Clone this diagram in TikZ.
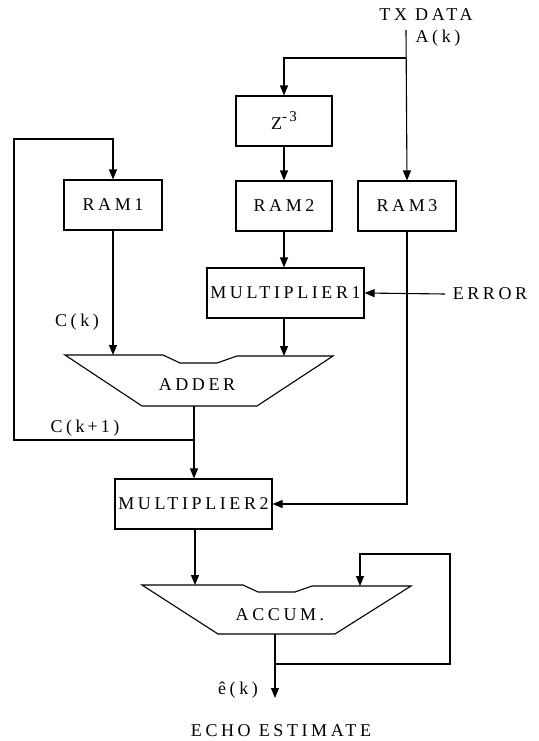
\documentclass[tikz,border=0pt]{standalone}
\usepackage{fontspec}
\setmainfont{Liberation Serif}[LetterSpace=20]
\usetikzlibrary{arrows.meta}
\begin{document}
\begin{tikzpicture}[x=1pt,y=-1pt,line width=1.1pt,
  every node/.style={font=\fontsize{18}{20}\selectfont},
  blk/.style={draw,minimum height=50pt,inner sep=0pt},
  lbl/.style={inner sep=0pt},
  arr/.style={-{Triangle[length=10pt,width=8pt]}}]
\useasboundingbox (0,0) rectangle (538,741);
% blocks
\node[blk,minimum width=96pt] (z) at (284,121) {Z\raisebox{8pt}{\fontsize{15}{15}\selectfont -\,3}};
\node[blk,minimum width=98pt] (ram1) at (113,205) {RAM1};
\node[blk,minimum width=96pt] (ram2) at (284,206) {RAM2};
\node[blk,minimum width=98pt] (ram3) at (407,206) {RAM3};
\node[blk,minimum width=157pt] (mult1) at (285.5,293) {MULTIPLIER1};
\node[blk,minimum width=157pt] (mult2) at (193.5,504) {MULTIPLIER2};
% adder and accumulator shapes
\draw (65,355) -- (163,355) -- (180,363) -- (217,363) -- (237,356) -- (333,356) -- (257,406) -- (142,406) -- cycle;
\node[lbl] (adder) at (197,385) {ADDER};
\draw (142,585) -- (243,585) -- (258,592) -- (295,592) -- (312,586) -- (411,586) -- (335,634) -- (218,634) -- cycle;
\node[lbl] (accum) at (280,615) {ACCUM.};
% coordinates
\coordinate (txtop) at (406,30);
\coordinate (txsplit) at (406,58);
\coordinate (addin1) at (113,355);
\coordinate (addin2) at (284,356);
\coordinate (addout) at (194,406);
\coordinate (cjunc) at (194,440);
\coordinate (accin1) at (195,585);
\coordinate (accin2) at (360,586);
\coordinate (accout) at (275,634);
\coordinate (ajunc) at (275,664);
\coordinate (eout) at (275,698);
\coordinate (errstart) at (445,294);
% labels
\node[lbl] (tx) at (426,15) {TX DATA};
\node[lbl] (ak) at (438,38) {A(k)};
\node[lbl] (err) at (490,294) {ERROR};
\node[lbl] (ck) at (77,322) {C(k)};
\node[lbl] (ck1) at (85,428) {C(k\,+\,1)};
\node[lbl] (ek) at (238,690) {ê(k)};
\node[lbl] (echo) at (281,731) {ECHO ESTIMATE};
% connectors
\draw[arr] (txtop) -- (ram3.north);
\draw[arr] (txsplit) -| (z.north);
\draw[arr] (z.south) -- (ram2.north);
\draw[arr] (ram2.south) -- (ram2.south |- mult1.north);
\draw[arr] (errstart) -- (mult1.east);
\draw[arr] (ram3.south) |- (mult2.east);
\draw[arr] (ram1.south) -- (addin1);
\draw[arr] (mult1.south -| addin2) -- (addin2);
\draw[arr] (addout) -- (mult2.north -| addout);
\draw[arr] (cjunc) -- (14,440) -- (14,139) -| (ram1.north);
\draw[arr] (mult2.south -| accin1) -- (accin1);
\draw[arr] (accout) -- (eout);
\draw[arr] (ajunc) -- (450,664) -- (450,554) -| (accin2);
\end{tikzpicture}
\end{document}
